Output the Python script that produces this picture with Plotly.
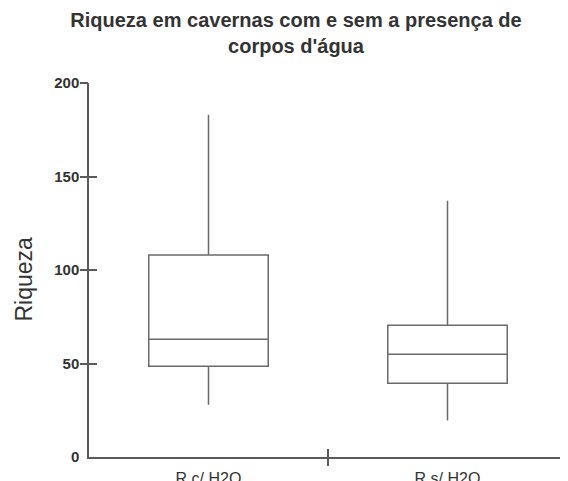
import plotly.graph_objects as go

categories = ["R c/ H2O", "R s/ H2O"]
lower_whisker = [28, 19.5]
q1_values = [48.5, 39.5]
median_values = [63, 55]
q3_values = [108, 70.5]
upper_whisker = [183, 137]
y_tick_values = [0, 50, 100, 150, 200]

positions = list(range(len(categories)))
boundaries = [p + 0.5 for p in positions]

LINE = "#6a6a6a"
AXIS = "#5a5a5a"
TEXT = "#333333"
FONT = "Liberation Sans, Arial, sans-serif"

fig = go.Figure()
fig.add_trace(go.Box(
    x=positions,
    q1=q1_values,
    median=median_values,
    q3=q3_values,
    lowerfence=lower_whisker,
    upperfence=upper_whisker,
    width=0.5,
    whiskerwidth=0,
    fillcolor="rgba(255,255,255,0)",
    line=dict(color=LINE, width=1.5),
    boxpoints=False,
    hoverinfo="skip",
    showlegend=False,
))
# invisible helper traces so that the overlay tick axes are drawn
for ax in ("2", "3"):
    fig.add_trace(go.Scatter(
        x=[None], y=[None], xaxis="x" + ax, yaxis="y" + ax,
        mode="markers", hoverinfo="skip", showlegend=False,
    ))

xr = [-0.5, len(categories) - 0.5]
yr = [0, 200]

common = dict(automargin=False, showgrid=False, zeroline=False)

# the page body adds an 8px offset, which the margins compensate for
W, H = 568, 481
L, R, T, B = 81, 9, 75, 32
PW, PH = W - L - R, H - T - B

fig.update_layout(
    template="none",
    width=W, height=H,
    margin=dict(l=L, r=R, t=T, b=B, pad=0),
    paper_bgcolor="white", plot_bgcolor="white",
    font=dict(family=FONT, color=TEXT),
    showlegend=False,
    title=dict(
        text="Riqueza em cavernas com e sem a presença de<br>corpos d'água",
        x=288 / W, xanchor="center", xref="container",
        y=1 - 19 / H, yanchor="top", yref="container",
        font=dict(family=FONT, size=20, color=TEXT, weight="bold"),
    ),
    xaxis=dict(
        range=xr, tickvals=positions, ticktext=categories,
        ticks="outside", ticklen=6, tickcolor="rgba(0,0,0,0)",
        showline=True, linecolor=AXIS, linewidth=1.5,
        tickfont=dict(family=FONT, size=16, color=TEXT),
        **common,
    ),
    xaxis2=dict(
        range=xr, overlaying="x", anchor="y", side="bottom",
        tickvals=boundaries, ticks="outside", ticklen=8, tickcolor=AXIS, tickwidth=1.5,
        showticklabels=False, showline=False, **common,
    ),
    xaxis3=dict(
        range=xr, overlaying="x", anchor="y", side="bottom",
        tickvals=boundaries, ticks="inside", ticklen=8, tickcolor=AXIS, tickwidth=1.5,
        showticklabels=False, showline=False, **common,
    ),
    yaxis=dict(
        range=yr, tickvals=y_tick_values,
        ticks="outside", ticklen=5, tickcolor="rgba(0,0,0,0)",
        showline=True, linecolor=AXIS, linewidth=1.5,
        tickfont=dict(family=FONT, size=15, color=TEXT, weight="bold"),
        **common,
    ),
    yaxis2=dict(
        range=yr, overlaying="y", anchor="x", side="left",
        tickvals=y_tick_values[1:], ticks="outside", ticklen=8, tickcolor=AXIS, tickwidth=1.5,
        showticklabels=False, showline=False, **common,
    ),
    yaxis3=dict(
        range=yr, overlaying="y", anchor="x", side="left",
        tickvals=y_tick_values[1:], ticks="inside", ticklen=8, tickcolor=AXIS, tickwidth=1.5,
        showticklabels=False, showline=False, **common,
    ),
    annotations=[dict(
        text="Riqueza", textangle=-90,
        xref="paper", x=(15.5 - L) / PW, xanchor="center",
        yref="paper", y=(H - B - 271) / PH, yanchor="middle",
        showarrow=False,
        font=dict(family=FONT, size=23, color=TEXT),
    )],
)

fig.write_html("out.html")
